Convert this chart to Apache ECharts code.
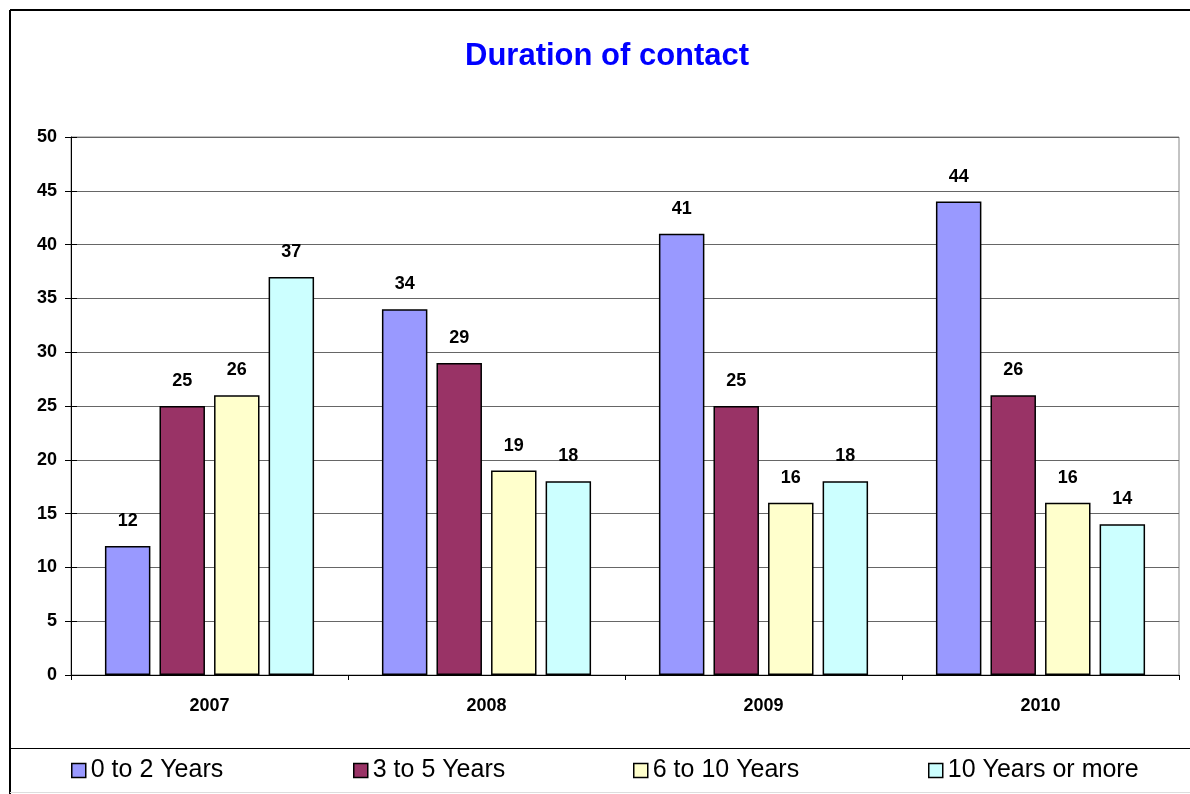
<!DOCTYPE html>
<html>
<head>
<meta charset="utf-8">
<script src="https://cdn.jsdelivr.net/npm/echarts@6/dist/echarts.min.js"></script>
<style>
  html, body { margin: 0; padding: 0; background: #fff; }
  #chartContainer { width: 1190px; height: 794px; }
</style>
</head>
<body>
<div id="chartContainer"></div>
<script>
var years = ['2007', '2008', '2009', '2010'];
var seriesNames = ['0 to 2 Years', '3 to 5 Years', '6 to 10 Years', '10 Years or more'];
var zeroToTwo = [12, 34, 41, 44];
var threeToFive = [25, 29, 25, 26];
var sixToTen = [26, 19, 16, 16];
var tenPlus = [37, 18, 18, 14];
var colors = ['#9999ff', '#993366', '#ffffcc', '#ccffff'];

var myChart = echarts.init(document.getElementById('chartContainer'));

function mkSeries(i, data) {
    return {
        name: seriesNames[i],
        type: 'bar',
        data: data,
        barGap: '20%',
        barCategoryGap: '24.5%',
        itemStyle: { color: colors[i], borderColor: '#000', borderWidth: 1.5 },
        label: {
            show: true, position: 'top', distance: 16,
            fontFamily: 'Liberation Sans, Arial', fontWeight: 'bold', fontSize: 18, color: '#000'
        }
    };
}

function mkLegend(i, left) {
    return {
        data: [seriesNames[i]],
        left: left, top: 753,
        itemWidth: 14, itemHeight: 14, itemGap: 7,
        icon: 'rect',
        itemStyle: { borderColor: '#000', borderWidth: 1.5 },
        textStyle: { fontFamily: 'Liberation Sans, Arial', fontSize: 25, color: '#000' }
    };
}

var option = {
    animation: false,
    backgroundColor: '#fff',
    title: {
        text: 'Duration of contact',
        left: 460, top: 36,
        textStyle: { fontFamily: 'Liberation Sans, Arial', fontWeight: 'bold', fontSize: 31, color: '#0000ff' }
    },
    legend: [mkLegend(0, 66), mkLegend(1, 348), mkLegend(2, 628), mkLegend(3, 923)],
    grid: { left: 71, right: 11, top: 137, bottom: 119, show: true, borderColor: '#888', borderWidth: 1 },
    xAxis: {
        type: 'category',
        data: years,
        axisLine: { lineStyle: { color: '#000', width: 1 } },
        axisTick: { show: true, length: 5, lineStyle: { color: '#000' } },
        axisLabel: { margin: 22, fontFamily: 'Liberation Sans, Arial', fontWeight: 'bold', fontSize: 18, color: '#000' }
    },
    yAxis: [{
        type: 'value', min: 0, max: 50, interval: 5,
        axisLine: { show: true, lineStyle: { color: '#000', width: 1 } },
        axisTick: { show: true, length: 6, lineStyle: { color: '#000' } },
        splitLine: { lineStyle: { color: '#666', width: 1 } },
        axisLabel: { margin: 14, fontFamily: 'Liberation Sans, Arial', fontWeight: 'bold', fontSize: 18, color: '#000' }
    }, {
        type: 'value', min: 0, max: 50, interval: 5, position: 'left',
        axisLine: { show: false },
        axisTick: { show: true, inside: true, length: 6, lineStyle: { color: '#000' } },
        splitLine: { show: false },
        axisLabel: { show: false }
    }],
    series: [mkSeries(0, zeroToTwo), mkSeries(1, threeToFive), mkSeries(2, sixToTen), mkSeries(3, tenPlus)],
    graphic: [
        { type: 'line', shape: { x1: 10, y1: 10, x2: 1190, y2: 10 }, style: { stroke: '#000', lineWidth: 2 } },
        { type: 'line', shape: { x1: 10, y1: 10, x2: 10, y2: 794 }, style: { stroke: '#000', lineWidth: 2 } },
        { type: 'line', shape: { x1: 10, y1: 748.5, x2: 1190, y2: 748.5 }, style: { stroke: '#000', lineWidth: 1 } },
        { type: 'line', shape: { x1: 10, y1: 792.5, x2: 1190, y2: 792.5 }, style: { stroke: '#ddd', lineWidth: 1 } }
    ]
};

myChart.setOption(option);
</script>
</body>
</html>
